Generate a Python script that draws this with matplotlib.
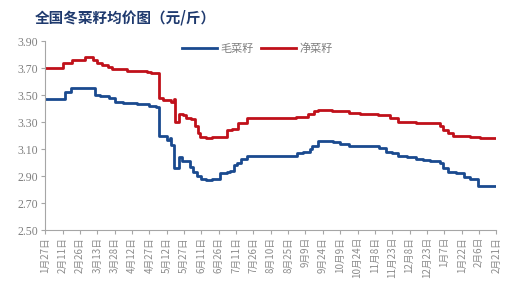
import numpy as np
import pandas as pd
import matplotlib
matplotlib.use('Agg')
import matplotlib.pyplot as plt
import matplotlib.dates as mdates

plt.rcParams['font.family'] = ['Noto Sans CJK SC', 'DejaVu Sans']

# 毛菜籽 (step points: date, price)
mao_dates = ['2023-01-27', '2023-02-13', '2023-02-18', '2023-03-11', '2023-03-15',
             '2023-03-23', '2023-03-28', '2023-04-04', '2023-04-16', '2023-04-27',
             '2023-05-03', '2023-05-05', '2023-05-12', '2023-05-15', '2023-05-16',
             '2023-05-18', '2023-05-23', '2023-05-25', '2023-06-01', '2023-06-04',
             '2023-06-07', '2023-06-11', '2023-06-15', '2023-06-20', '2023-06-27',
             '2023-07-03', '2023-07-06', '2023-07-09', '2023-07-12', '2023-07-15',
             '2023-07-20', '2023-09-02', '2023-09-07', '2023-09-13', '2023-09-15',
             '2023-09-20', '2023-10-03', '2023-10-09', '2023-10-17', '2023-11-12',
             '2023-11-18', '2023-11-23', '2023-11-28', '2023-12-06', '2023-12-14',
             '2023-12-20', '2023-12-26', '2024-01-03', '2024-01-06', '2024-01-10',
             '2024-01-17', '2024-01-24', '2024-01-29', '2024-02-05', '2024-02-21']
mao_price = [3.47, 3.52, 3.55, 3.50, 3.49,
             3.48, 3.45, 3.44, 3.43, 3.42,
             3.41, 3.20, 3.17, 3.18, 3.13,
             2.96, 3.04, 3.01, 2.97, 2.93,
             2.90, 2.88, 2.87, 2.88, 2.92,
             2.93, 2.94, 2.98, 3.00, 3.03,
             3.05, 3.07, 3.08, 3.10, 3.12,
             3.16, 3.15, 3.14, 3.12, 3.11,
             3.08, 3.07, 3.05, 3.04, 3.03,
             3.02, 3.01, 3.00, 2.96, 2.93,
             2.92, 2.89, 2.88, 2.83, 2.83]

# 净菜籽
jing_dates = ['2023-01-27', '2023-02-11', '2023-02-19', '2023-03-02', '2023-03-09',
              '2023-03-13', '2023-03-17', '2023-03-22', '2023-03-26', '2023-04-08',
              '2023-04-25', '2023-04-28', '2023-05-05', '2023-05-09', '2023-05-16',
              '2023-05-18', '2023-05-19', '2023-05-23', '2023-05-26', '2023-05-29',
              '2023-06-02', '2023-06-05', '2023-06-08', '2023-06-10', '2023-06-15',
              '2023-06-20', '2023-07-03', '2023-07-07', '2023-07-13', '2023-07-20',
              '2023-09-01', '2023-09-11', '2023-09-16', '2023-09-20', '2023-10-02',
              '2023-10-17', '2023-10-26', '2023-11-11', '2023-11-21', '2023-11-28',
              '2023-12-14', '2024-01-03', '2024-01-06', '2024-01-10', '2024-01-15',
              '2024-01-29', '2024-02-07', '2024-02-21']
jing_price = [3.70, 3.74, 3.76, 3.78, 3.76,
              3.74, 3.72, 3.71, 3.69, 3.68,
              3.67, 3.66, 3.48, 3.46, 3.45,
              3.47, 3.30, 3.36, 3.35, 3.33,
              3.32, 3.27, 3.22, 3.19, 3.18,
              3.19, 3.24, 3.25, 3.29, 3.33,
              3.34, 3.36, 3.38, 3.39, 3.38,
              3.37, 3.36, 3.35, 3.33, 3.30,
              3.29, 3.27, 3.24, 3.22, 3.20,
              3.19, 3.18, 3.18]

yticks = [2.50, 2.70, 2.90, 3.10, 3.30, 3.50, 3.70, 3.90]

mao_dates = pd.to_datetime(mao_dates)
jing_dates = pd.to_datetime(jing_dates)
xticks = pd.date_range('2023-01-27', '2024-02-21', freq='15D')

fig = plt.figure(figsize=(5.1, 2.95), dpi=100)
ax = fig.add_axes([0.089, 0.22, 0.884, 0.641])

blue = '#1a4a8f'
red = '#c0101a'
ax.plot(mao_dates, mao_price, drawstyle='steps-post', color=blue, lw=2, label='毛菜籽')
ax.plot(jing_dates, jing_price, drawstyle='steps-post', color=red, lw=2, label='净菜籽')

ax.set_ylim(2.50, 3.90)
ax.set_yticks(yticks)
ax.set_yticklabels(['%.2f' % v for v in yticks], family='Liberation Serif', fontsize=8.5, color='#7f7f7f')
ax.set_xlim(xticks[0], xticks[-1])
ax.set_xticks(xticks)
ax.set_xticklabels(['%d月%d日' % (d.month, d.day) for d in xticks], rotation=90,
                   fontsize=7, color='#8c8c8c')

for s in ['top', 'right']:
    ax.spines[s].set_visible(False)
for s in ['left', 'bottom']:
    ax.spines[s].set_color('#a6a6a6')
    ax.spines[s].set_linewidth(0.8)
ax.tick_params(axis='both', colors='#a6a6a6', length=3, width=0.8, pad=2)
ax.tick_params(axis='x', labelcolor='#8c8c8c')
ax.tick_params(axis='y', labelcolor='#7f7f7f')

leg = ax.legend(loc='upper center', bbox_to_anchor=(0.47, 1.04), ncol=2, frameon=False,
                fontsize=8, handlelength=3.2, columnspacing=0.6, handletextpad=0.3)
for t in leg.get_texts():
    t.set_color('#7f7f7f')

fig.text(0.068, 0.94, '全国冬菜籽均价图（元/斤）', fontsize=10.5, fontweight='bold',
         color='#1f3a6e', va='center')

fig.savefig('out.png', dpi=100)
